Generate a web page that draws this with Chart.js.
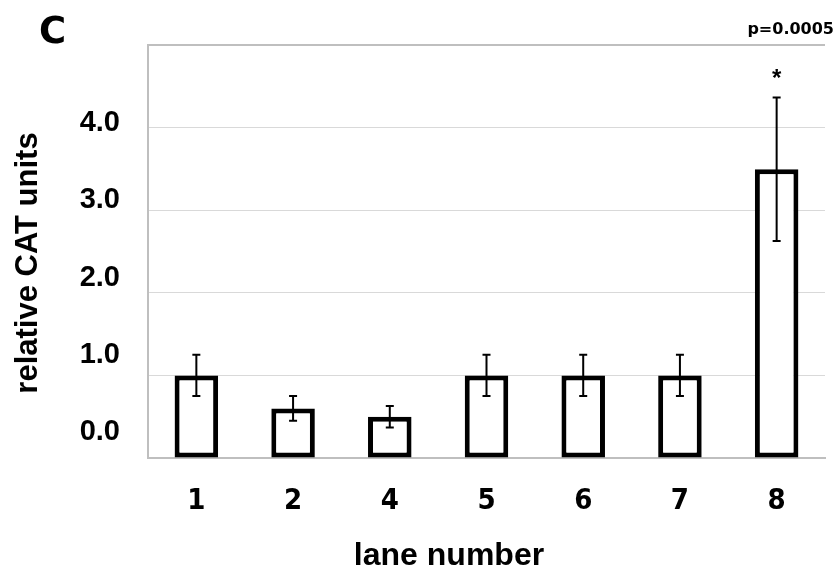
<!DOCTYPE html>
<html>
<head>
<meta charset="utf-8">
<script src="https://cdn.jsdelivr.net/npm/chart.js@4.4.1/dist/chart.umd.min.js"></script>
<style>
  html, body { margin: 0; padding: 0; background: #ffffff; }
  #c { display: block; }
</style>
</head>
<body>
<canvas id="c" width="838" height="573"></canvas>
<script>
// ---- data ----
const lanes = ['1', '2', '4', '5', '6', '7', '8'];
const relativeCAT = [1.0, 0.6, 0.5, 1.0, 1.0, 1.0, 3.5];
const errors = [0.25, 0.15, 0.13, 0.25, 0.25, 0.25, 0.87];
const yTickValues = [0, 1, 2, 3, 4];
const yTickLabels = ['0.0', '1.0', '2.0', '3.0', '4.0'];
const significance = ['', '', '', '', '', '', '*'];
const pValueLabel = 'p=0.0005';
const panelLabel = 'C';
const xTitle = 'lane number';
const yTitle = 'relative CAT units';

const errorBars = {
  id: 'errorBars',
  afterDatasetsDraw(chart) {
    const ctx = chart.ctx;
    const y = chart.scales.y;
    const meta = chart.getDatasetMeta(0);
    ctx.save();
    ctx.strokeStyle = '#000';
    ctx.lineWidth = 2;
    meta.data.forEach((bar, i) => {
      const v = relativeCAT[i], e = errors[i];
      const yt = y.getPixelForValue(v + e);
      const yb = y.getPixelForValue(v - e);
      const x = bar.x;
      ctx.beginPath();
      ctx.moveTo(x, yt); ctx.lineTo(x, yb);
      ctx.moveTo(x - 4, yt); ctx.lineTo(x + 4, yt);
      ctx.moveTo(x - 4, yb); ctx.lineTo(x + 4, yb);
      ctx.stroke();
    });
    ctx.restore();
  }
};

const texts = {
  id: 'texts',
  afterDraw(chart) {
    const ctx = chart.ctx;
    const y = chart.scales.y;
    const meta = chart.getDatasetMeta(0);
    ctx.save();
    ctx.fillStyle = '#000';
    // significance marks
    ctx.font = 'bold 24px "Liberation Sans", Arial, sans-serif';
    ctx.textAlign = 'center';
    ctx.textBaseline = 'alphabetic';
    meta.data.forEach((bar, i) => {
      if (!significance[i]) return;
      const yt = y.getPixelForValue(relativeCAT[i] + errors[i]);
      ctx.fillText(significance[i], bar.x, yt - 11);
    });
    // p value
    ctx.font = 'bold 16px "DejaVu Sans", sans-serif';
    ctx.textAlign = 'right';
    ctx.textBaseline = 'alphabetic';
    ctx.fillText(pValueLabel, 834, 34);
    // panel label
    ctx.font = 'bold 37px "DejaVu Sans", sans-serif';
    ctx.textAlign = 'left';
    ctx.fillText(panelLabel, 39, 43);
    // x title
    ctx.font = 'bold 32px "Liberation Sans", Arial, sans-serif';
    ctx.textAlign = 'center';
    ctx.fillText(xTitle, 449, 565);
    // y title
    ctx.translate(28, 263);
    ctx.rotate(-Math.PI / 2);
    ctx.font = 'bold 31px "Liberation Sans", Arial, sans-serif';
    ctx.textAlign = 'center';
    ctx.textBaseline = 'middle';
    ctx.fillText(yTitle, 0, 0);
    ctx.restore();
  }
};

new Chart(document.getElementById('c'), {
  type: 'bar',
  data: {
    labels: lanes,
    datasets: [{
      data: relativeCAT,
      backgroundColor: '#ffffff',
      borderColor: '#000000',
      borderWidth: 5,
      borderSkipped: false,
      categoryPercentage: 1.0,
      barPercentage: 0.45
    }]
  },
  options: {
    responsive: false,
    animation: false,
    devicePixelRatio: 1,
    layout: { padding: { top: 44, right: 13, left: 0, bottom: 0 } },
    plugins: { legend: { display: false }, tooltip: { enabled: false }, title: { display: false } },
    scales: {
      x: {
        grid: { display: false, drawTicks: false },
        border: { color: '#bfbfbf', width: 2 },
        ticks: {
          color: '#000',
          padding: 26,
          maxRotation: 0,
          font: { family: '"Liberation Sans Narrow", "DejaVu Sans Condensed", sans-serif', weight: 'bold', size: 29 }
        },
        afterFit(s) { s.height = 115; }
      },
      y: {
        min: 0, max: 5,
        ticks: { display: false, stepSize: 1 },
        grid: {
          drawTicks: false,
          color: (c) => c.tick && c.tick.value === 5 ? '#bfbfbf' : '#d9d9d9',
          lineWidth: (c) => c.tick && c.tick.value === 5 ? 2 : 1
        },
        border: { color: '#bfbfbf', width: 2 },
        afterFit(s) { s.width = 0; }
      },
      yLabels: {
        position: 'left',
        min: -0.335, max: 5.006,
        grid: { display: false, drawTicks: false },
        border: { display: false },
        afterBuildTicks(s) { s.ticks = yTickValues.map(v => ({ value: v })); },
        ticks: {
          color: '#000',
          padding: 28,
          font: { family: '"Liberation Sans", Arial, sans-serif', weight: 'bold', size: 29 },
          callback: (v) => { const i = yTickValues.indexOf(v); return i >= 0 ? yTickLabels[i] : ''; }
        },
        afterFit(s) { s.width = 148; }
      }
    }
  },
  plugins: [errorBars, texts]
});
</script>
</body>
</html>
